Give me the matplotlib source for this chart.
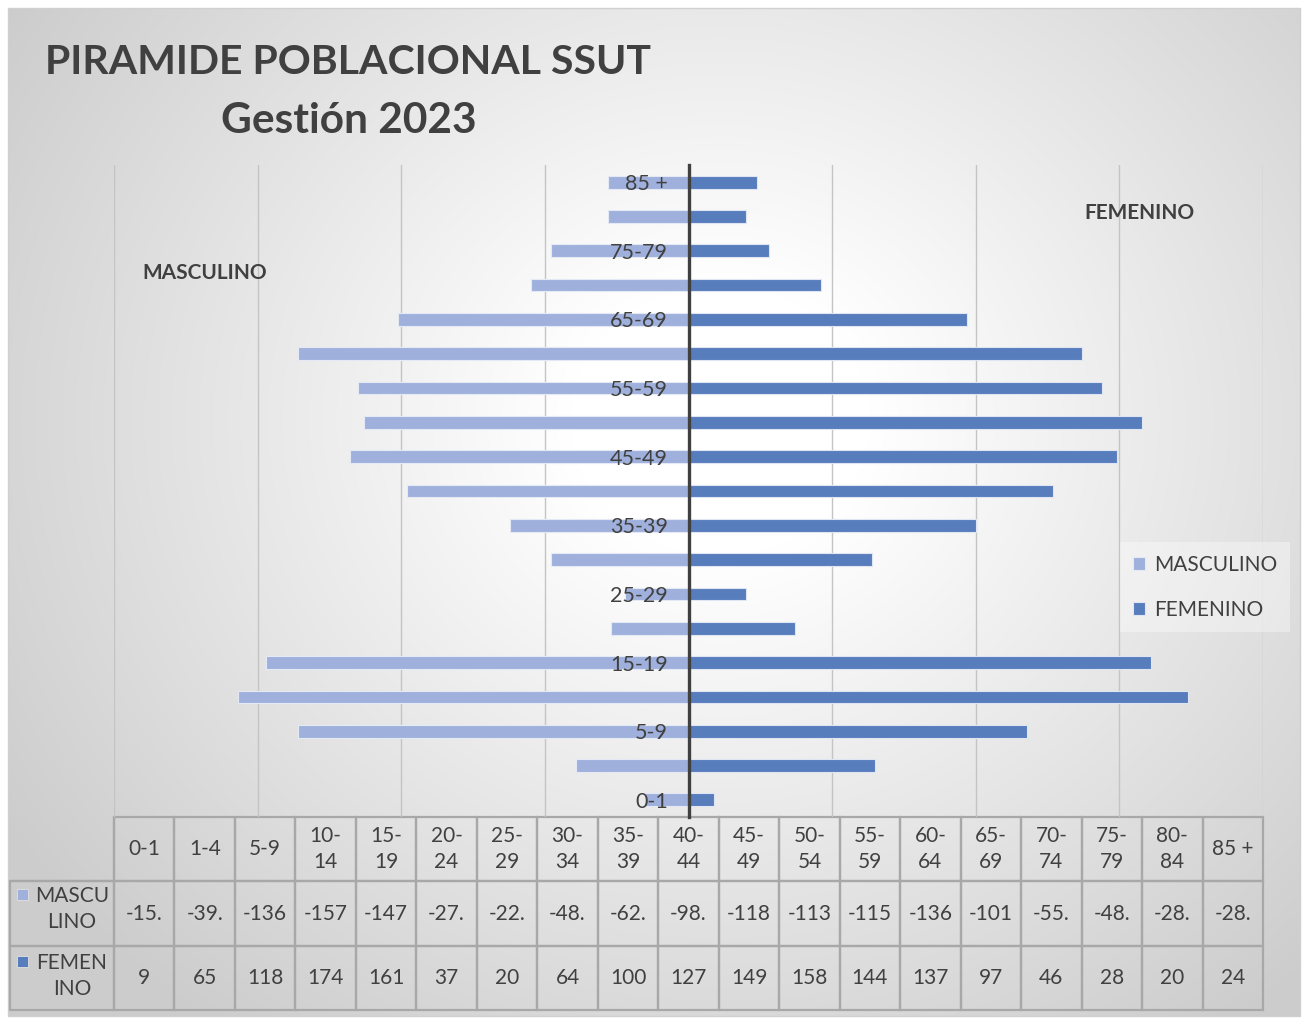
import numpy as np
import matplotlib.pyplot as plt
from matplotlib.patches import Rectangle

plt.rcParams['font.family'] = ['Lato', 'DejaVu Sans']

# datos
grupos = ['0-1', '1-4', '5-9', '10-14', '15-19', '20-24', '25-29', '30-34', '35-39', '40-44',
          '45-49', '50-54', '55-59', '60-64', '65-69', '70-74', '75-79', '80-84', '85 +']
masculino = [-15, -39, -136, -157, -147, -27, -22, -48, -62, -98,
             -118, -113, -115, -136, -101, -55, -48, -28, -28]
femenino = [9, 65, 118, 174, 161, 37, 20, 64, 100, 127,
            149, 158, 144, 137, 97, 46, 28, 20, 24]

c_masc = '#9fb0dc'
c_fem = '#577dbd'
gris = '#404040'

W, H = 1307, 1019
fig = plt.figure(figsize=(W / 100, H / 100), dpi=100)


def px(x, y):
    # pixel de la imagen -> coordenadas de figura
    return x / W, 1 - y / H


# fondo con degradado radial (estilo Excel)
bg = fig.add_axes([0, 0, 1, 1], zorder=-10)
yy, xx = np.mgrid[0:H, 0:W]
r = np.hypot((xx - 720) / 1.0, (yy - 420) / 0.9)
v = 1 - 0.2 * np.clip((r - 150) / 700, 0, 1)
img = np.dstack([v, v, v])
outside = (xx < 8) | (xx > 1300) | (yy < 8) | (yy > 1016)
img[outside] = 1.0
bg.imshow(img, extent=[0, W, H, 0], aspect='auto')
bg.add_patch(Rectangle((8, 8), 1292, 1008, fill=False, edgecolor='#d0d0d0', lw=1))
bg.set_xlim(0, W)
bg.set_ylim(H, 0)
bg.axis('off')

# grafico principal
ax = fig.add_axes([114 / W, 1 - 817 / H, 1149 / W, 652 / H])
ax.patch.set_alpha(0)
y = np.arange(len(grupos))
ax.barh(y, masculino, height=0.37, color=c_masc, edgecolor='#e4e9f5', linewidth=0.8,
        label='MASCULINO', zorder=3)
ax.barh(y, femenino, height=0.37, color=c_fem, edgecolor='#dfe5f2', linewidth=0.8,
        label='FEMENINO', zorder=3)
ax.set_xlim(-200, 200)
ax.set_ylim(-0.5, len(grupos) - 0.5)
ax.set_xticks(range(-200, 201, 50))
ax.set_xticklabels([])
ax.tick_params(axis='x', length=0)
ax.grid(axis='x', color='#c4c4c4', linewidth=1.0)
ax.xaxis.set_zorder(0.5)
ax.yaxis.set_zorder(6)

ax.spines['left'].set_position(('data', 0))
ax.spines['left'].set_color(gris)
ax.spines['left'].set_linewidth(2.4)
ax.spines['left'].set_zorder(5)
for s in ['right', 'top', 'bottom']:
    ax.spines[s].set_visible(False)
ax.set_yticks(y)
ax.set_yticklabels([g if i % 2 == 0 else '' for i, g in enumerate(grupos)])
ax.tick_params(axis='y', length=0, pad=15, labelsize=15.5, labelcolor=gris)

# tabla de datos
encabezado = [''] + [g.replace('-', '-\n') if len(g) > 3 and '-' in g else g for g in grupos]
fila_m = [''] + [f'{v:.1f}'[:4] for v in masculino]
fila_f = [''] + [str(v) for v in femenino]
colw = [104] + [1149 / 19] * 19
tbl = ax.table(cellText=[encabezado, fila_m, fila_f], colWidths=colw, cellLoc='center',
               bbox=[-104 / 1149, -193 / 652, 1253 / 1149, 193 / 652])
tbl.auto_set_font_size(False)
tbl.set_fontsize(15)
for (rr, cc), cell in tbl.get_celld().items():
    cell.set_facecolor('none')
    cell.set_edgecolor('#a8a8a8')
    cell.set_linewidth(1.6)
    cell.get_text().set_color(gris)
    cell.get_text().set_linespacing(1.35)
    if rr == 0 and cc == 0:
        cell.visible_edges = 'BR'

for etiqueta, yc, col in [('MASCU\nLINO', 909, c_masc), ('FEMEN\nINO', 976, c_fem)]:
    fig.text(*px(72, yc), etiqueta, ha='center', va='center', fontsize=15, color=gris,
             linespacing=1.35)
    x0, y0 = px(17, yc - 15 + 6)
    fig.add_artist(Rectangle((x0, y0), 11 / W, 11 / H, transform=fig.transFigure,
                             facecolor=col, edgecolor='#e0e0e0', lw=0.6))

# leyenda
leg = ax.legend(loc='upper left', bbox_to_anchor=px(1110, 532), bbox_transform=fig.transFigure,
                fontsize=15, handlelength=0.6, handleheight=0.6, handletextpad=0.4,
                labelspacing=1.2, borderpad=0.6, frameon=True, fancybox=False)
leg.get_frame().set_facecolor('white')
leg.get_frame().set_alpha(0.35)
leg.get_frame().set_edgecolor('none')
for t in leg.get_texts():
    t.set_color(gris)

# textos
fig.text(*px(205, 273), 'MASCULINO', ha='center', va='center', fontsize=15,
         fontweight='bold', color=gris)
fig.text(*px(1139, 213), 'FEMENINO', ha='center', va='center', fontsize=15,
         fontweight='bold', color=gris)
fig.text(*px(45, 62), 'PIRAMIDE POBLACIONAL SSUT', ha='left', va='center', fontsize=29.5,
         fontweight='bold', color=gris)
fig.text(*px(349, 121), 'Gestión 2023', ha='center', va='center', fontsize=30.5,
         fontweight='bold', color=gris)

fig.savefig('out.png', dpi=100)
